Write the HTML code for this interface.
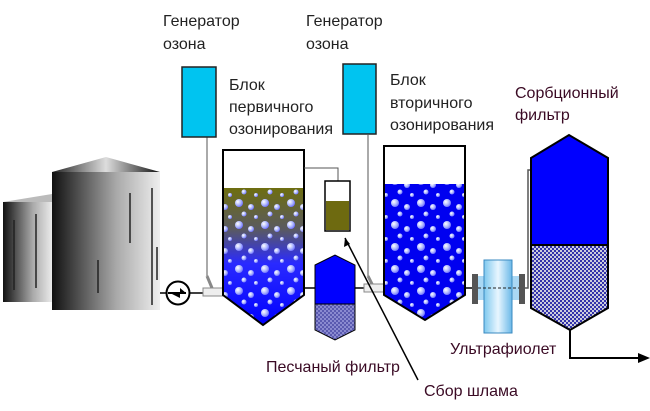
<!DOCTYPE html>
<html><head><meta charset="utf-8"><style>
html,body{margin:0;padding:0;background:#fff;width:650px;height:411px;overflow:hidden}
text{font-family:"Liberation Sans",sans-serif;font-size:16px}
</style></head><body>
<svg width="650" height="411" viewBox="0 0 650 411" xmlns="http://www.w3.org/2000/svg">
<defs>
<linearGradient id="tk" x1="0" x2="1"><stop offset="0" stop-color="#111"/><stop offset="0.6" stop-color="#aaa"/><stop offset="1" stop-color="#eee"/></linearGradient>
<linearGradient id="roof" x1="0" x2="1"><stop offset="0" stop-color="#222"/><stop offset="0.5" stop-color="#ddd"/><stop offset="1" stop-color="#111"/></linearGradient>
<linearGradient id="w1" x1="0" y1="0" x2="0" y2="1"><stop offset="0" stop-color="#6e6e10"/><stop offset="0.3" stop-color="#5a5a60"/><stop offset="0.55" stop-color="#2a2aff"/><stop offset="1" stop-color="#0000ff"/></linearGradient>
<linearGradient id="uv" x1="0" x2="1"><stop offset="0" stop-color="#7ec8ee"/><stop offset="0.5" stop-color="#e8f6ff"/><stop offset="1" stop-color="#6ab8e8"/></linearGradient>
<radialGradient id="bb" cx="0.35" cy="0.35" r="0.7"><stop offset="0" stop-color="#fff"/><stop offset="0.6" stop-color="#aab4ff"/><stop offset="1" stop-color="#6a6aff"/></radialGradient>
<pattern id="bub" width="26" height="22" patternUnits="userSpaceOnUse">
<circle cx="5" cy="5" r="4" fill="url(#bb)"/><circle cx="17" cy="9" r="3" fill="url(#bb)"/><circle cx="10" cy="16" r="2.5" fill="url(#bb)"/><circle cx="22" cy="19" r="2" fill="url(#bb)"/>
</pattern>
<pattern id="hat" width="4" height="4" patternUnits="userSpaceOnUse"><rect width="4" height="4" fill="#ccd"/><rect width="2" height="2" fill="#33a"/><rect x="2" y="2" width="2" height="2" fill="#33a"/></pattern>
<pattern id="hat2" width="4" height="4" patternUnits="userSpaceOnUse"><rect width="4" height="4" fill="#8a8ad0"/><rect width="2" height="2" fill="#5a5ab0"/><rect x="2" y="2" width="2" height="2" fill="#5a5ab0"/></pattern>
</defs>
<!-- tanks -->
<polygon points="3,202 52,194 52,202" fill="#bbb"/>
<rect x="3" y="202" width="50" height="100" fill="url(#tk)"/>
<line x1="14" y1="220" x2="14" y2="290" stroke="#222" stroke-width="1.5"/><line x1="36" y1="214" x2="36" y2="288" stroke="#222" stroke-width="1.5"/>
<polygon points="52,172 106,157 160,172" fill="url(#roof)"/>
<rect x="52" y="172" width="108" height="138" fill="url(#tk)"/>
<line x1="130" y1="193" x2="130" y2="243" stroke="#222" stroke-width="1.5"/><line x1="152" y1="188" x2="152" y2="305" stroke="#222" stroke-width="1.5"/><line x1="98" y1="260" x2="98" y2="293" stroke="#222" stroke-width="1.5"/><line x1="157" y1="247" x2="157" y2="280" stroke="#222" stroke-width="1.5"/>
<!-- pipes -->
<line x1="160" y1="293" x2="223" y2="293" stroke="#000" stroke-width="1.5"/>
<circle cx="178" cy="293" r="11.5" fill="#fff" stroke="#000" stroke-width="2"/>
<polygon points="170,293 186,293 180,288 180,298" fill="#000"/><line x1="168" y1="293" x2="186" y2="293" stroke="#000" stroke-width="2"/>
<rect x="203" y="288" width="20" height="8" fill="#eee" stroke="#888"/>
<line x1="207" y1="137" x2="207" y2="276" stroke="#555"/>
<line x1="207" y1="276" x2="212" y2="288" stroke="#888" stroke-width="3"/>
<rect x="182" y="67" width="34" height="70" fill="#00c4f0" stroke="#222" stroke-width="1.5"/>
<rect x="343" y="64" width="33" height="70" fill="#00c4f0" stroke="#222" stroke-width="1.5"/>
<line x1="368" y1="134" x2="368" y2="276" stroke="#555"/>
<line x1="368" y1="276" x2="373" y2="286" stroke="#888" stroke-width="3"/>
<line x1="304" y1="288" x2="384" y2="288" stroke="#000" stroke-width="1.5"/>
<rect x="364" y="284" width="20" height="8" fill="#eee" stroke="#888"/>
<line x1="465" y1="288" x2="484" y2="288" stroke="#000" stroke-width="1.5"/>
<polyline points="512,288 528,288 528,170 531,170" fill="none" stroke="#555" stroke-width="1.5"/>
<!-- tank 1 -->
<polygon points="223,188 304,188 304,295 263,325 223,295" fill="url(#w1)"/>
<polygon points="223,188 304,188 304,295 263,325 223,295" fill="url(#bub)"/>
<polygon points="223,150 304,150 304,295 263,325 223,295" fill="none" stroke="#000" stroke-width="2"/>
<polyline points="304,168 338,168 338,181" fill="none" stroke="#555"/>
<rect x="325" y="181" width="25" height="50" fill="#fff" stroke="#000" stroke-width="1.5"/>
<rect x="326" y="201" width="23" height="29" fill="#6e6a10"/>
<line x1="418" y1="380" x2="345" y2="238" stroke="#000" stroke-width="1.5"/>
<polygon points="345,238 344,247 350,244" fill="#000"/>
<!-- sand filter -->
<polygon points="315,265 335,255 355,265 355,304 315,304" fill="#0000ff" stroke="#000" stroke-width="1"/>
<polygon points="315,304 355,304 355,330 335,340 315,330" fill="url(#hat2)" stroke="#000" stroke-width="1"/>
<!-- tank 2 -->
<polygon points="384,184 465,184 465,295 425,320 384,295" fill="#0000f0"/>
<polygon points="384,184 465,184 465,295 425,320 384,295" fill="url(#bub)"/>
<polygon points="384,146 465,146 465,295 425,320 384,295" fill="none" stroke="#000" stroke-width="2"/>
<!-- UV -->
<rect x="475" y="276" width="47" height="24" fill="#aad8f4"/>
<rect x="484" y="260" width="28" height="73" fill="url(#uv)" stroke="#3a8ac0"/>
<rect x="472" y="274" width="6" height="30" fill="#555"/><rect x="519" y="274" width="6" height="30" fill="#555"/>
<line x1="478" y1="288" x2="519" y2="288" stroke="#222" stroke-dasharray="3,2"/>
<!-- sorb filter -->
<polygon points="531,158 569,135 608,158 608,245 531,245" fill="#0000ff" stroke="#000" stroke-width="2"/>
<polygon points="531,245 608,245 608,308 570,330 531,308" fill="url(#hat)" stroke="#000" stroke-width="2"/>
<polyline points="570,330 570,358 640,358" fill="none" stroke="#000" stroke-width="2"/>
<polygon points="650,358 638,353 638,363" fill="#000"/>
<!-- labels -->
<g fill="#222">
<text x="163" y="26">Генератор</text><text x="163" y="49">озона</text>
<text x="306" y="26">Генератор</text><text x="306" y="49">озона</text>
<text x="229" y="90">Блок</text><text x="229" y="112">первичного</text><text x="229" y="134">озонирования</text>
<text x="390" y="85">Блок</text><text x="390" y="108">вторичного</text><text x="390" y="130">озонирования</text>
</g>
<g fill="#3a0a24">
<text x="515" y="98">Сорбционный</text><text x="515" y="120">фильтр</text>
<text x="266" y="372">Песчаный фильтр</text>
<text x="450" y="354">Ультрафиолет</text>
<text x="424" y="396">Сбор шлама</text>
</g>
</svg>
</body></html>
